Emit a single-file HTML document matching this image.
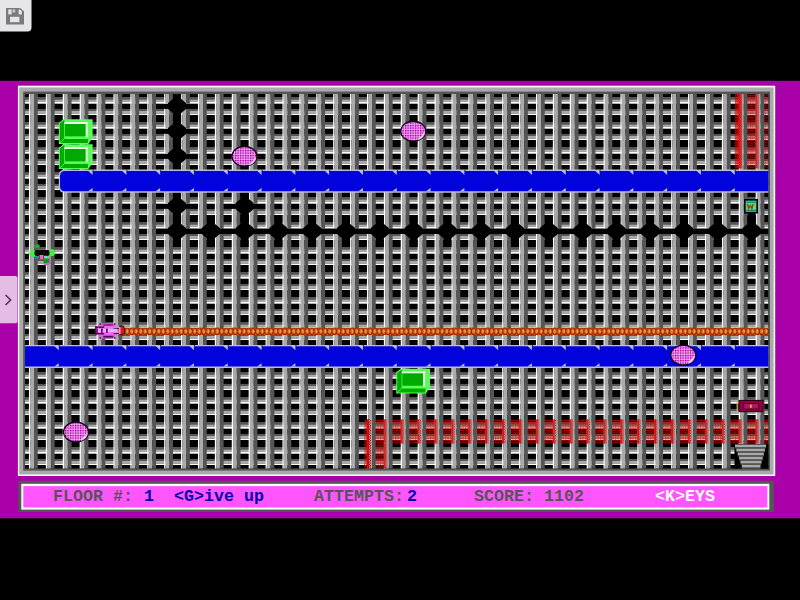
<!DOCTYPE html>
<html><head><meta charset="utf-8">
<style>
html,body{margin:0;padding:0;background:#000;width:800px;height:600px;overflow:hidden}
svg{position:absolute;left:0;top:0;filter:blur(0.2px)}
.ch{position:absolute;top:487px;width:11px;text-align:center;font-family:"Liberation Mono",monospace;font-weight:bold;font-size:16.6px;line-height:20px;white-space:pre}
</style></head><body>
<svg width="800" height="600" viewBox="0 0 800 600">
<defs>
<clipPath id="gclip"><rect x="25" y="93.9" width="743.3" height="374.7"/></clipPath>
<pattern id="dith" patternUnits="userSpaceOnUse" width="2.5" height="2.5">
<rect width="2.5" height="2.5" fill="#f070f0"/>
<rect x="0" y="0" width="1.25" height="1.25" fill="#900090"/>
<rect x="1.25" y="1.25" width="1.25" height="1.25" fill="#f4c0f4"/>
</pattern>
<pattern id="rweb" patternUnits="userSpaceOnUse" width="2.5" height="2.5">
<rect width="2.5" height="1.25" fill="#e00000"/>
<rect y="1.25" width="1.25" height="1.25" fill="#d00000"/>
</pattern>
<pattern id="rweb2" patternUnits="userSpaceOnUse" width="2.5" height="2.5">
<rect width="1.25" height="1.25" fill="#e00000"/>
<rect x="1.25" y="1.25" width="1.25" height="1.25" fill="#e00000"/>
</pattern>
<pattern id="rpink" patternUnits="userSpaceOnUse" width="2.5" height="5">
<rect width="1.25" height="1.25" fill="#c00000"/>
<rect x="1.25" y="2.5" width="1.25" height="1.25" fill="#ffb0b0"/>
</pattern>
<pattern id="rope" patternUnits="userSpaceOnUse" x="124.5" y="327.6" width="4.5" height="7.4">
<rect width="4.5" height="7.4" fill="#e07020"/>
<ellipse cx="2.6" cy="3.7" rx="2.3" ry="3.3" fill="none" stroke="#902000" stroke-width="1.1"/>
<rect x="2.4" y="2.5" width="1.3" height="2.4" fill="#ffb050"/>
</pattern>
</defs>
<rect x="0" y="80.8" width="800" height="437.5" fill="#aa00aa"/>
<rect x="17.9" y="85.7" width="757.3" height="390.3" fill="#fff"/>
<rect x="19.2" y="87.4" width="754.4" height="387.1" fill="#aaa"/>
<rect x="23.2" y="91.6" width="746.8" height="379" fill="#555"/>
<g clip-path="url(#gclip)">
<rect x="0" y="0" width="800" height="600" fill="#000"/>
<rect x="25.05" y="97" width="743.6" height="2.5" fill="#555"/>
<rect x="25.05" y="99.5" width="743.6" height="2.1" fill="#aaa"/>
<rect x="25.05" y="101.6" width="743.6" height="2.1" fill="#fff"/>
<rect x="25.05" y="108.9" width="743.6" height="1.9" fill="#555"/>
<rect x="25.05" y="110.8" width="743.6" height="2.95" fill="#aaa"/>
<rect x="25.05" y="113.75" width="743.6" height="1.25" fill="#fff"/>
<rect x="25.05" y="122" width="743.6" height="2.5" fill="#555"/>
<rect x="25.05" y="124.5" width="743.6" height="2.1" fill="#aaa"/>
<rect x="25.05" y="126.6" width="743.6" height="2.1" fill="#fff"/>
<rect x="25.05" y="133.9" width="743.6" height="1.9" fill="#555"/>
<rect x="25.05" y="135.8" width="743.6" height="2.95" fill="#aaa"/>
<rect x="25.05" y="138.75" width="743.6" height="1.25" fill="#fff"/>
<rect x="25.05" y="147" width="743.6" height="2.5" fill="#555"/>
<rect x="25.05" y="149.5" width="743.6" height="2.1" fill="#aaa"/>
<rect x="25.05" y="151.6" width="743.6" height="2.1" fill="#fff"/>
<rect x="25.05" y="158.9" width="743.6" height="1.9" fill="#555"/>
<rect x="25.05" y="160.8" width="743.6" height="2.95" fill="#aaa"/>
<rect x="25.05" y="163.75" width="743.6" height="1.25" fill="#fff"/>
<rect x="25.05" y="172" width="743.6" height="2.5" fill="#555"/>
<rect x="25.05" y="174.5" width="743.6" height="2.1" fill="#aaa"/>
<rect x="25.05" y="176.6" width="743.6" height="2.1" fill="#fff"/>
<rect x="25.05" y="183.9" width="743.6" height="1.9" fill="#555"/>
<rect x="25.05" y="185.8" width="743.6" height="2.95" fill="#aaa"/>
<rect x="25.05" y="188.75" width="743.6" height="1.25" fill="#fff"/>
<rect x="25.05" y="197" width="743.6" height="2.5" fill="#555"/>
<rect x="25.05" y="199.5" width="743.6" height="2.1" fill="#aaa"/>
<rect x="25.05" y="201.6" width="743.6" height="2.1" fill="#fff"/>
<rect x="25.05" y="208.9" width="743.6" height="1.9" fill="#555"/>
<rect x="25.05" y="210.8" width="743.6" height="2.95" fill="#aaa"/>
<rect x="25.05" y="213.75" width="743.6" height="1.25" fill="#fff"/>
<rect x="25.05" y="222" width="743.6" height="2.5" fill="#555"/>
<rect x="25.05" y="224.5" width="743.6" height="2.1" fill="#aaa"/>
<rect x="25.05" y="226.6" width="743.6" height="2.1" fill="#fff"/>
<rect x="25.05" y="233.9" width="743.6" height="1.9" fill="#555"/>
<rect x="25.05" y="235.8" width="743.6" height="2.95" fill="#aaa"/>
<rect x="25.05" y="238.75" width="743.6" height="1.25" fill="#fff"/>
<rect x="25.05" y="247" width="743.6" height="2.5" fill="#555"/>
<rect x="25.05" y="249.5" width="743.6" height="2.1" fill="#aaa"/>
<rect x="25.05" y="251.6" width="743.6" height="2.1" fill="#fff"/>
<rect x="25.05" y="258.9" width="743.6" height="1.9" fill="#555"/>
<rect x="25.05" y="260.8" width="743.6" height="2.95" fill="#aaa"/>
<rect x="25.05" y="263.75" width="743.6" height="1.25" fill="#fff"/>
<rect x="25.05" y="272" width="743.6" height="2.5" fill="#555"/>
<rect x="25.05" y="274.5" width="743.6" height="2.1" fill="#aaa"/>
<rect x="25.05" y="276.6" width="743.6" height="2.1" fill="#fff"/>
<rect x="25.05" y="283.9" width="743.6" height="1.9" fill="#555"/>
<rect x="25.05" y="285.8" width="743.6" height="2.95" fill="#aaa"/>
<rect x="25.05" y="288.75" width="743.6" height="1.25" fill="#fff"/>
<rect x="25.05" y="297" width="743.6" height="2.5" fill="#555"/>
<rect x="25.05" y="299.5" width="743.6" height="2.1" fill="#aaa"/>
<rect x="25.05" y="301.6" width="743.6" height="2.1" fill="#fff"/>
<rect x="25.05" y="308.9" width="743.6" height="1.9" fill="#555"/>
<rect x="25.05" y="310.8" width="743.6" height="2.95" fill="#aaa"/>
<rect x="25.05" y="313.75" width="743.6" height="1.25" fill="#fff"/>
<rect x="25.05" y="322" width="743.6" height="2.5" fill="#555"/>
<rect x="25.05" y="324.5" width="743.6" height="2.1" fill="#aaa"/>
<rect x="25.05" y="326.6" width="743.6" height="2.1" fill="#fff"/>
<rect x="25.05" y="333.9" width="743.6" height="1.9" fill="#555"/>
<rect x="25.05" y="335.8" width="743.6" height="2.95" fill="#aaa"/>
<rect x="25.05" y="338.75" width="743.6" height="1.25" fill="#fff"/>
<rect x="25.05" y="347" width="743.6" height="2.5" fill="#555"/>
<rect x="25.05" y="349.5" width="743.6" height="2.1" fill="#aaa"/>
<rect x="25.05" y="351.6" width="743.6" height="2.1" fill="#fff"/>
<rect x="25.05" y="358.9" width="743.6" height="1.9" fill="#555"/>
<rect x="25.05" y="360.8" width="743.6" height="2.95" fill="#aaa"/>
<rect x="25.05" y="363.75" width="743.6" height="1.25" fill="#fff"/>
<rect x="25.05" y="372" width="743.6" height="2.5" fill="#555"/>
<rect x="25.05" y="374.5" width="743.6" height="2.1" fill="#aaa"/>
<rect x="25.05" y="376.6" width="743.6" height="2.1" fill="#fff"/>
<rect x="25.05" y="383.9" width="743.6" height="1.9" fill="#555"/>
<rect x="25.05" y="385.8" width="743.6" height="2.95" fill="#aaa"/>
<rect x="25.05" y="388.75" width="743.6" height="1.25" fill="#fff"/>
<rect x="25.05" y="397" width="743.6" height="2.5" fill="#555"/>
<rect x="25.05" y="399.5" width="743.6" height="2.1" fill="#aaa"/>
<rect x="25.05" y="401.6" width="743.6" height="2.1" fill="#fff"/>
<rect x="25.05" y="408.9" width="743.6" height="1.9" fill="#555"/>
<rect x="25.05" y="410.8" width="743.6" height="2.95" fill="#aaa"/>
<rect x="25.05" y="413.75" width="743.6" height="1.25" fill="#fff"/>
<rect x="25.05" y="422" width="743.6" height="2.5" fill="#555"/>
<rect x="25.05" y="424.5" width="743.6" height="2.1" fill="#aaa"/>
<rect x="25.05" y="426.6" width="743.6" height="2.1" fill="#fff"/>
<rect x="25.05" y="433.9" width="743.6" height="1.9" fill="#555"/>
<rect x="25.05" y="435.8" width="743.6" height="2.95" fill="#aaa"/>
<rect x="25.05" y="438.75" width="743.6" height="1.25" fill="#fff"/>
<rect x="25.05" y="447" width="743.6" height="2.5" fill="#555"/>
<rect x="25.05" y="449.5" width="743.6" height="2.1" fill="#aaa"/>
<rect x="25.05" y="451.6" width="743.6" height="2.1" fill="#fff"/>
<rect x="25.05" y="458.9" width="743.6" height="1.9" fill="#555"/>
<rect x="25.05" y="460.8" width="743.6" height="2.95" fill="#aaa"/>
<rect x="25.05" y="463.75" width="743.6" height="1.25" fill="#fff"/>
<rect x="25.05" y="472" width="743.6" height="2.5" fill="#555"/>
<rect x="25.05" y="474.5" width="743.6" height="2.1" fill="#aaa"/>
<rect x="25.05" y="476.6" width="743.6" height="2.1" fill="#fff"/>
<rect x="25.05" y="483.9" width="743.6" height="1.9" fill="#555"/>
<rect x="25.05" y="485.8" width="743.6" height="2.95" fill="#aaa"/>
<rect x="25.05" y="488.75" width="743.6" height="1.25" fill="#fff"/>
<rect x="28.95" y="93.3" width="1.3" height="377" fill="#fff"/>
<rect x="30.25" y="93.3" width="3.75" height="377" fill="#aaa"/>
<rect x="34" y="93.3" width="3.75" height="377" fill="#555"/>
<rect x="45.85" y="93.3" width="1.3" height="377" fill="#fff"/>
<rect x="47.15" y="93.3" width="3.75" height="377" fill="#aaa"/>
<rect x="50.9" y="93.3" width="3.75" height="377" fill="#555"/>
<rect x="62.75" y="93.3" width="1.3" height="377" fill="#fff"/>
<rect x="64.05" y="93.3" width="3.75" height="377" fill="#aaa"/>
<rect x="67.8" y="93.3" width="3.75" height="377" fill="#555"/>
<rect x="79.65" y="93.3" width="1.3" height="377" fill="#fff"/>
<rect x="80.95" y="93.3" width="3.75" height="377" fill="#aaa"/>
<rect x="84.7" y="93.3" width="3.75" height="377" fill="#555"/>
<rect x="96.55" y="93.3" width="1.3" height="377" fill="#fff"/>
<rect x="97.85" y="93.3" width="3.75" height="377" fill="#aaa"/>
<rect x="101.6" y="93.3" width="3.75" height="377" fill="#555"/>
<rect x="113.45" y="93.3" width="1.3" height="377" fill="#fff"/>
<rect x="114.75" y="93.3" width="3.75" height="377" fill="#aaa"/>
<rect x="118.5" y="93.3" width="3.75" height="377" fill="#555"/>
<rect x="130.35" y="93.3" width="1.3" height="377" fill="#fff"/>
<rect x="131.65" y="93.3" width="3.75" height="377" fill="#aaa"/>
<rect x="135.4" y="93.3" width="3.75" height="377" fill="#555"/>
<rect x="147.25" y="93.3" width="1.3" height="377" fill="#fff"/>
<rect x="148.55" y="93.3" width="3.75" height="377" fill="#aaa"/>
<rect x="152.3" y="93.3" width="3.75" height="377" fill="#555"/>
<rect x="164.15" y="93.3" width="1.3" height="10.4" fill="#fff"/>
<rect x="165.45" y="93.3" width="3.75" height="10.4" fill="#aaa"/>
<rect x="169.2" y="93.3" width="3.75" height="10.4" fill="#555"/>
<rect x="164.15" y="108.9" width="1.3" height="19.8" fill="#fff"/>
<rect x="165.45" y="108.9" width="3.75" height="19.8" fill="#aaa"/>
<rect x="169.2" y="108.9" width="3.75" height="19.8" fill="#555"/>
<rect x="164.15" y="133.9" width="1.3" height="19.8" fill="#fff"/>
<rect x="165.45" y="133.9" width="3.75" height="19.8" fill="#aaa"/>
<rect x="169.2" y="133.9" width="3.75" height="19.8" fill="#555"/>
<rect x="164.15" y="158.9" width="1.3" height="19.8" fill="#fff"/>
<rect x="165.45" y="158.9" width="3.75" height="19.8" fill="#aaa"/>
<rect x="169.2" y="158.9" width="3.75" height="19.8" fill="#555"/>
<rect x="164.15" y="183.9" width="1.3" height="19.8" fill="#fff"/>
<rect x="165.45" y="183.9" width="3.75" height="19.8" fill="#aaa"/>
<rect x="169.2" y="183.9" width="3.75" height="19.8" fill="#555"/>
<rect x="164.15" y="208.9" width="1.3" height="19.8" fill="#fff"/>
<rect x="165.45" y="208.9" width="3.75" height="19.8" fill="#aaa"/>
<rect x="169.2" y="208.9" width="3.75" height="19.8" fill="#555"/>
<rect x="164.15" y="233.9" width="1.3" height="236.4" fill="#fff"/>
<rect x="165.45" y="233.9" width="3.75" height="236.4" fill="#aaa"/>
<rect x="169.2" y="233.9" width="3.75" height="236.4" fill="#555"/>
<rect x="181.05" y="93.3" width="1.3" height="10.4" fill="#fff"/>
<rect x="182.35" y="93.3" width="3.75" height="10.4" fill="#aaa"/>
<rect x="186.1" y="93.3" width="3.75" height="10.4" fill="#555"/>
<rect x="181.05" y="108.9" width="1.3" height="19.8" fill="#fff"/>
<rect x="182.35" y="108.9" width="3.75" height="19.8" fill="#aaa"/>
<rect x="186.1" y="108.9" width="3.75" height="19.8" fill="#555"/>
<rect x="181.05" y="133.9" width="1.3" height="19.8" fill="#fff"/>
<rect x="182.35" y="133.9" width="3.75" height="19.8" fill="#aaa"/>
<rect x="186.1" y="133.9" width="3.75" height="19.8" fill="#555"/>
<rect x="181.05" y="158.9" width="1.3" height="19.8" fill="#fff"/>
<rect x="182.35" y="158.9" width="3.75" height="19.8" fill="#aaa"/>
<rect x="186.1" y="158.9" width="3.75" height="19.8" fill="#555"/>
<rect x="181.05" y="183.9" width="1.3" height="19.8" fill="#fff"/>
<rect x="182.35" y="183.9" width="3.75" height="19.8" fill="#aaa"/>
<rect x="186.1" y="183.9" width="3.75" height="19.8" fill="#555"/>
<rect x="181.05" y="208.9" width="1.3" height="19.8" fill="#fff"/>
<rect x="182.35" y="208.9" width="3.75" height="19.8" fill="#aaa"/>
<rect x="186.1" y="208.9" width="3.75" height="19.8" fill="#555"/>
<rect x="181.05" y="233.9" width="1.3" height="236.4" fill="#fff"/>
<rect x="182.35" y="233.9" width="3.75" height="236.4" fill="#aaa"/>
<rect x="186.1" y="233.9" width="3.75" height="236.4" fill="#555"/>
<rect x="197.95" y="93.3" width="1.3" height="135.4" fill="#fff"/>
<rect x="199.25" y="93.3" width="3.75" height="135.4" fill="#aaa"/>
<rect x="203" y="93.3" width="3.75" height="135.4" fill="#555"/>
<rect x="197.95" y="233.9" width="1.3" height="236.4" fill="#fff"/>
<rect x="199.25" y="233.9" width="3.75" height="236.4" fill="#aaa"/>
<rect x="203" y="233.9" width="3.75" height="236.4" fill="#555"/>
<rect x="214.85" y="93.3" width="1.3" height="135.4" fill="#fff"/>
<rect x="216.15" y="93.3" width="3.75" height="135.4" fill="#aaa"/>
<rect x="219.9" y="93.3" width="3.75" height="135.4" fill="#555"/>
<rect x="214.85" y="233.9" width="1.3" height="236.4" fill="#fff"/>
<rect x="216.15" y="233.9" width="3.75" height="236.4" fill="#aaa"/>
<rect x="219.9" y="233.9" width="3.75" height="236.4" fill="#555"/>
<rect x="231.75" y="93.3" width="1.3" height="85.4" fill="#fff"/>
<rect x="233.05" y="93.3" width="3.75" height="85.4" fill="#aaa"/>
<rect x="236.8" y="93.3" width="3.75" height="85.4" fill="#555"/>
<rect x="231.75" y="183.9" width="1.3" height="19.8" fill="#fff"/>
<rect x="233.05" y="183.9" width="3.75" height="19.8" fill="#aaa"/>
<rect x="236.8" y="183.9" width="3.75" height="19.8" fill="#555"/>
<rect x="231.75" y="208.9" width="1.3" height="19.8" fill="#fff"/>
<rect x="233.05" y="208.9" width="3.75" height="19.8" fill="#aaa"/>
<rect x="236.8" y="208.9" width="3.75" height="19.8" fill="#555"/>
<rect x="231.75" y="233.9" width="1.3" height="236.4" fill="#fff"/>
<rect x="233.05" y="233.9" width="3.75" height="236.4" fill="#aaa"/>
<rect x="236.8" y="233.9" width="3.75" height="236.4" fill="#555"/>
<rect x="248.65" y="93.3" width="1.3" height="85.4" fill="#fff"/>
<rect x="249.95" y="93.3" width="3.75" height="85.4" fill="#aaa"/>
<rect x="253.7" y="93.3" width="3.75" height="85.4" fill="#555"/>
<rect x="248.65" y="183.9" width="1.3" height="19.8" fill="#fff"/>
<rect x="249.95" y="183.9" width="3.75" height="19.8" fill="#aaa"/>
<rect x="253.7" y="183.9" width="3.75" height="19.8" fill="#555"/>
<rect x="248.65" y="208.9" width="1.3" height="19.8" fill="#fff"/>
<rect x="249.95" y="208.9" width="3.75" height="19.8" fill="#aaa"/>
<rect x="253.7" y="208.9" width="3.75" height="19.8" fill="#555"/>
<rect x="248.65" y="233.9" width="1.3" height="236.4" fill="#fff"/>
<rect x="249.95" y="233.9" width="3.75" height="236.4" fill="#aaa"/>
<rect x="253.7" y="233.9" width="3.75" height="236.4" fill="#555"/>
<rect x="265.55" y="93.3" width="1.3" height="135.4" fill="#fff"/>
<rect x="266.85" y="93.3" width="3.75" height="135.4" fill="#aaa"/>
<rect x="270.6" y="93.3" width="3.75" height="135.4" fill="#555"/>
<rect x="265.55" y="233.9" width="1.3" height="236.4" fill="#fff"/>
<rect x="266.85" y="233.9" width="3.75" height="236.4" fill="#aaa"/>
<rect x="270.6" y="233.9" width="3.75" height="236.4" fill="#555"/>
<rect x="282.45" y="93.3" width="1.3" height="135.4" fill="#fff"/>
<rect x="283.75" y="93.3" width="3.75" height="135.4" fill="#aaa"/>
<rect x="287.5" y="93.3" width="3.75" height="135.4" fill="#555"/>
<rect x="282.45" y="233.9" width="1.3" height="236.4" fill="#fff"/>
<rect x="283.75" y="233.9" width="3.75" height="236.4" fill="#aaa"/>
<rect x="287.5" y="233.9" width="3.75" height="236.4" fill="#555"/>
<rect x="299.35" y="93.3" width="1.3" height="135.4" fill="#fff"/>
<rect x="300.65" y="93.3" width="3.75" height="135.4" fill="#aaa"/>
<rect x="304.4" y="93.3" width="3.75" height="135.4" fill="#555"/>
<rect x="299.35" y="233.9" width="1.3" height="236.4" fill="#fff"/>
<rect x="300.65" y="233.9" width="3.75" height="236.4" fill="#aaa"/>
<rect x="304.4" y="233.9" width="3.75" height="236.4" fill="#555"/>
<rect x="316.25" y="93.3" width="1.3" height="135.4" fill="#fff"/>
<rect x="317.55" y="93.3" width="3.75" height="135.4" fill="#aaa"/>
<rect x="321.3" y="93.3" width="3.75" height="135.4" fill="#555"/>
<rect x="316.25" y="233.9" width="1.3" height="236.4" fill="#fff"/>
<rect x="317.55" y="233.9" width="3.75" height="236.4" fill="#aaa"/>
<rect x="321.3" y="233.9" width="3.75" height="236.4" fill="#555"/>
<rect x="333.15" y="93.3" width="1.3" height="135.4" fill="#fff"/>
<rect x="334.45" y="93.3" width="3.75" height="135.4" fill="#aaa"/>
<rect x="338.2" y="93.3" width="3.75" height="135.4" fill="#555"/>
<rect x="333.15" y="233.9" width="1.3" height="236.4" fill="#fff"/>
<rect x="334.45" y="233.9" width="3.75" height="236.4" fill="#aaa"/>
<rect x="338.2" y="233.9" width="3.75" height="236.4" fill="#555"/>
<rect x="350.05" y="93.3" width="1.3" height="135.4" fill="#fff"/>
<rect x="351.35" y="93.3" width="3.75" height="135.4" fill="#aaa"/>
<rect x="355.1" y="93.3" width="3.75" height="135.4" fill="#555"/>
<rect x="350.05" y="233.9" width="1.3" height="236.4" fill="#fff"/>
<rect x="351.35" y="233.9" width="3.75" height="236.4" fill="#aaa"/>
<rect x="355.1" y="233.9" width="3.75" height="236.4" fill="#555"/>
<rect x="366.95" y="93.3" width="1.3" height="135.4" fill="#fff"/>
<rect x="368.25" y="93.3" width="3.75" height="135.4" fill="#aaa"/>
<rect x="372" y="93.3" width="3.75" height="135.4" fill="#555"/>
<rect x="366.95" y="233.9" width="1.3" height="236.4" fill="#fff"/>
<rect x="368.25" y="233.9" width="3.75" height="236.4" fill="#aaa"/>
<rect x="372" y="233.9" width="3.75" height="236.4" fill="#555"/>
<rect x="383.85" y="93.3" width="1.3" height="135.4" fill="#fff"/>
<rect x="385.15" y="93.3" width="3.75" height="135.4" fill="#aaa"/>
<rect x="388.9" y="93.3" width="3.75" height="135.4" fill="#555"/>
<rect x="383.85" y="233.9" width="1.3" height="236.4" fill="#fff"/>
<rect x="385.15" y="233.9" width="3.75" height="236.4" fill="#aaa"/>
<rect x="388.9" y="233.9" width="3.75" height="236.4" fill="#555"/>
<rect x="400.75" y="93.3" width="1.3" height="135.4" fill="#fff"/>
<rect x="402.05" y="93.3" width="3.75" height="135.4" fill="#aaa"/>
<rect x="405.8" y="93.3" width="3.75" height="135.4" fill="#555"/>
<rect x="400.75" y="233.9" width="1.3" height="236.4" fill="#fff"/>
<rect x="402.05" y="233.9" width="3.75" height="236.4" fill="#aaa"/>
<rect x="405.8" y="233.9" width="3.75" height="236.4" fill="#555"/>
<rect x="417.65" y="93.3" width="1.3" height="135.4" fill="#fff"/>
<rect x="418.95" y="93.3" width="3.75" height="135.4" fill="#aaa"/>
<rect x="422.7" y="93.3" width="3.75" height="135.4" fill="#555"/>
<rect x="417.65" y="233.9" width="1.3" height="236.4" fill="#fff"/>
<rect x="418.95" y="233.9" width="3.75" height="236.4" fill="#aaa"/>
<rect x="422.7" y="233.9" width="3.75" height="236.4" fill="#555"/>
<rect x="434.55" y="93.3" width="1.3" height="135.4" fill="#fff"/>
<rect x="435.85" y="93.3" width="3.75" height="135.4" fill="#aaa"/>
<rect x="439.6" y="93.3" width="3.75" height="135.4" fill="#555"/>
<rect x="434.55" y="233.9" width="1.3" height="236.4" fill="#fff"/>
<rect x="435.85" y="233.9" width="3.75" height="236.4" fill="#aaa"/>
<rect x="439.6" y="233.9" width="3.75" height="236.4" fill="#555"/>
<rect x="451.45" y="93.3" width="1.3" height="135.4" fill="#fff"/>
<rect x="452.75" y="93.3" width="3.75" height="135.4" fill="#aaa"/>
<rect x="456.5" y="93.3" width="3.75" height="135.4" fill="#555"/>
<rect x="451.45" y="233.9" width="1.3" height="236.4" fill="#fff"/>
<rect x="452.75" y="233.9" width="3.75" height="236.4" fill="#aaa"/>
<rect x="456.5" y="233.9" width="3.75" height="236.4" fill="#555"/>
<rect x="468.35" y="93.3" width="1.3" height="135.4" fill="#fff"/>
<rect x="469.65" y="93.3" width="3.75" height="135.4" fill="#aaa"/>
<rect x="473.4" y="93.3" width="3.75" height="135.4" fill="#555"/>
<rect x="468.35" y="233.9" width="1.3" height="236.4" fill="#fff"/>
<rect x="469.65" y="233.9" width="3.75" height="236.4" fill="#aaa"/>
<rect x="473.4" y="233.9" width="3.75" height="236.4" fill="#555"/>
<rect x="485.25" y="93.3" width="1.3" height="135.4" fill="#fff"/>
<rect x="486.55" y="93.3" width="3.75" height="135.4" fill="#aaa"/>
<rect x="490.3" y="93.3" width="3.75" height="135.4" fill="#555"/>
<rect x="485.25" y="233.9" width="1.3" height="236.4" fill="#fff"/>
<rect x="486.55" y="233.9" width="3.75" height="236.4" fill="#aaa"/>
<rect x="490.3" y="233.9" width="3.75" height="236.4" fill="#555"/>
<rect x="502.15" y="93.3" width="1.3" height="135.4" fill="#fff"/>
<rect x="503.45" y="93.3" width="3.75" height="135.4" fill="#aaa"/>
<rect x="507.2" y="93.3" width="3.75" height="135.4" fill="#555"/>
<rect x="502.15" y="233.9" width="1.3" height="236.4" fill="#fff"/>
<rect x="503.45" y="233.9" width="3.75" height="236.4" fill="#aaa"/>
<rect x="507.2" y="233.9" width="3.75" height="236.4" fill="#555"/>
<rect x="519.05" y="93.3" width="1.3" height="135.4" fill="#fff"/>
<rect x="520.35" y="93.3" width="3.75" height="135.4" fill="#aaa"/>
<rect x="524.1" y="93.3" width="3.75" height="135.4" fill="#555"/>
<rect x="519.05" y="233.9" width="1.3" height="236.4" fill="#fff"/>
<rect x="520.35" y="233.9" width="3.75" height="236.4" fill="#aaa"/>
<rect x="524.1" y="233.9" width="3.75" height="236.4" fill="#555"/>
<rect x="535.95" y="93.3" width="1.3" height="135.4" fill="#fff"/>
<rect x="537.25" y="93.3" width="3.75" height="135.4" fill="#aaa"/>
<rect x="541" y="93.3" width="3.75" height="135.4" fill="#555"/>
<rect x="535.95" y="233.9" width="1.3" height="236.4" fill="#fff"/>
<rect x="537.25" y="233.9" width="3.75" height="236.4" fill="#aaa"/>
<rect x="541" y="233.9" width="3.75" height="236.4" fill="#555"/>
<rect x="552.85" y="93.3" width="1.3" height="135.4" fill="#fff"/>
<rect x="554.15" y="93.3" width="3.75" height="135.4" fill="#aaa"/>
<rect x="557.9" y="93.3" width="3.75" height="135.4" fill="#555"/>
<rect x="552.85" y="233.9" width="1.3" height="236.4" fill="#fff"/>
<rect x="554.15" y="233.9" width="3.75" height="236.4" fill="#aaa"/>
<rect x="557.9" y="233.9" width="3.75" height="236.4" fill="#555"/>
<rect x="569.75" y="93.3" width="1.3" height="135.4" fill="#fff"/>
<rect x="571.05" y="93.3" width="3.75" height="135.4" fill="#aaa"/>
<rect x="574.8" y="93.3" width="3.75" height="135.4" fill="#555"/>
<rect x="569.75" y="233.9" width="1.3" height="236.4" fill="#fff"/>
<rect x="571.05" y="233.9" width="3.75" height="236.4" fill="#aaa"/>
<rect x="574.8" y="233.9" width="3.75" height="236.4" fill="#555"/>
<rect x="586.65" y="93.3" width="1.3" height="135.4" fill="#fff"/>
<rect x="587.95" y="93.3" width="3.75" height="135.4" fill="#aaa"/>
<rect x="591.7" y="93.3" width="3.75" height="135.4" fill="#555"/>
<rect x="586.65" y="233.9" width="1.3" height="236.4" fill="#fff"/>
<rect x="587.95" y="233.9" width="3.75" height="236.4" fill="#aaa"/>
<rect x="591.7" y="233.9" width="3.75" height="236.4" fill="#555"/>
<rect x="603.55" y="93.3" width="1.3" height="135.4" fill="#fff"/>
<rect x="604.85" y="93.3" width="3.75" height="135.4" fill="#aaa"/>
<rect x="608.6" y="93.3" width="3.75" height="135.4" fill="#555"/>
<rect x="603.55" y="233.9" width="1.3" height="236.4" fill="#fff"/>
<rect x="604.85" y="233.9" width="3.75" height="236.4" fill="#aaa"/>
<rect x="608.6" y="233.9" width="3.75" height="236.4" fill="#555"/>
<rect x="620.45" y="93.3" width="1.3" height="135.4" fill="#fff"/>
<rect x="621.75" y="93.3" width="3.75" height="135.4" fill="#aaa"/>
<rect x="625.5" y="93.3" width="3.75" height="135.4" fill="#555"/>
<rect x="620.45" y="233.9" width="1.3" height="236.4" fill="#fff"/>
<rect x="621.75" y="233.9" width="3.75" height="236.4" fill="#aaa"/>
<rect x="625.5" y="233.9" width="3.75" height="236.4" fill="#555"/>
<rect x="637.35" y="93.3" width="1.3" height="135.4" fill="#fff"/>
<rect x="638.65" y="93.3" width="3.75" height="135.4" fill="#aaa"/>
<rect x="642.4" y="93.3" width="3.75" height="135.4" fill="#555"/>
<rect x="637.35" y="233.9" width="1.3" height="236.4" fill="#fff"/>
<rect x="638.65" y="233.9" width="3.75" height="236.4" fill="#aaa"/>
<rect x="642.4" y="233.9" width="3.75" height="236.4" fill="#555"/>
<rect x="654.25" y="93.3" width="1.3" height="135.4" fill="#fff"/>
<rect x="655.55" y="93.3" width="3.75" height="135.4" fill="#aaa"/>
<rect x="659.3" y="93.3" width="3.75" height="135.4" fill="#555"/>
<rect x="654.25" y="233.9" width="1.3" height="236.4" fill="#fff"/>
<rect x="655.55" y="233.9" width="3.75" height="236.4" fill="#aaa"/>
<rect x="659.3" y="233.9" width="3.75" height="236.4" fill="#555"/>
<rect x="671.15" y="93.3" width="1.3" height="135.4" fill="#fff"/>
<rect x="672.45" y="93.3" width="3.75" height="135.4" fill="#aaa"/>
<rect x="676.2" y="93.3" width="3.75" height="135.4" fill="#555"/>
<rect x="671.15" y="233.9" width="1.3" height="236.4" fill="#fff"/>
<rect x="672.45" y="233.9" width="3.75" height="236.4" fill="#aaa"/>
<rect x="676.2" y="233.9" width="3.75" height="236.4" fill="#555"/>
<rect x="688.05" y="93.3" width="1.3" height="135.4" fill="#fff"/>
<rect x="689.35" y="93.3" width="3.75" height="135.4" fill="#aaa"/>
<rect x="693.1" y="93.3" width="3.75" height="135.4" fill="#555"/>
<rect x="688.05" y="233.9" width="1.3" height="236.4" fill="#fff"/>
<rect x="689.35" y="233.9" width="3.75" height="236.4" fill="#aaa"/>
<rect x="693.1" y="233.9" width="3.75" height="236.4" fill="#555"/>
<rect x="704.95" y="93.3" width="1.3" height="135.4" fill="#fff"/>
<rect x="706.25" y="93.3" width="3.75" height="135.4" fill="#aaa"/>
<rect x="710" y="93.3" width="3.75" height="135.4" fill="#555"/>
<rect x="704.95" y="233.9" width="1.3" height="236.4" fill="#fff"/>
<rect x="706.25" y="233.9" width="3.75" height="236.4" fill="#aaa"/>
<rect x="710" y="233.9" width="3.75" height="236.4" fill="#555"/>
<rect x="721.85" y="93.3" width="1.3" height="135.4" fill="#fff"/>
<rect x="723.15" y="93.3" width="3.75" height="135.4" fill="#aaa"/>
<rect x="726.9" y="93.3" width="3.75" height="135.4" fill="#555"/>
<rect x="721.85" y="233.9" width="1.3" height="236.4" fill="#fff"/>
<rect x="723.15" y="233.9" width="3.75" height="236.4" fill="#aaa"/>
<rect x="726.9" y="233.9" width="3.75" height="236.4" fill="#555"/>
<rect x="738.75" y="93.3" width="1.3" height="135.4" fill="#fff"/>
<rect x="740.05" y="93.3" width="3.75" height="135.4" fill="#aaa"/>
<rect x="743.8" y="93.3" width="3.75" height="135.4" fill="#555"/>
<rect x="738.75" y="233.9" width="1.3" height="236.4" fill="#fff"/>
<rect x="740.05" y="233.9" width="3.75" height="236.4" fill="#aaa"/>
<rect x="743.8" y="233.9" width="3.75" height="236.4" fill="#555"/>
<rect x="755.65" y="93.3" width="1.3" height="135.4" fill="#fff"/>
<rect x="756.95" y="93.3" width="3.75" height="135.4" fill="#aaa"/>
<rect x="760.7" y="93.3" width="3.75" height="135.4" fill="#555"/>
<rect x="755.65" y="233.9" width="1.3" height="236.4" fill="#fff"/>
<rect x="756.95" y="233.9" width="3.75" height="236.4" fill="#aaa"/>
<rect x="760.7" y="233.9" width="3.75" height="236.4" fill="#555"/>
<rect x="172.96" y="90" width="8.09" height="32" fill="#000"/>
<rect x="172.96" y="115" width="8.09" height="32" fill="#000"/>
<rect x="172.96" y="140" width="8.09" height="32" fill="#000"/>
<rect x="172.96" y="165" width="8.09" height="32" fill="#000"/>
<rect x="172.96" y="190" width="8.09" height="32" fill="#000"/>
<rect x="172.96" y="215" width="8.09" height="32" fill="#000"/>
<rect x="206.76" y="215" width="8.09" height="32" fill="#000"/>
<rect x="240.56" y="165" width="8.09" height="32" fill="#000"/>
<rect x="240.56" y="190" width="8.09" height="32" fill="#000"/>
<rect x="240.56" y="215" width="8.09" height="32" fill="#000"/>
<rect x="274.36" y="215" width="8.09" height="32" fill="#000"/>
<rect x="308.16" y="215" width="8.09" height="32" fill="#000"/>
<rect x="341.96" y="215" width="8.09" height="32" fill="#000"/>
<rect x="375.76" y="215" width="8.09" height="32" fill="#000"/>
<rect x="409.56" y="215" width="8.09" height="32" fill="#000"/>
<rect x="443.36" y="215" width="8.09" height="32" fill="#000"/>
<rect x="477.16" y="215" width="8.09" height="32" fill="#000"/>
<rect x="510.96" y="215" width="8.09" height="32" fill="#000"/>
<rect x="544.76" y="215" width="8.09" height="32" fill="#000"/>
<rect x="578.56" y="215" width="8.09" height="32" fill="#000"/>
<rect x="612.36" y="215" width="8.09" height="32" fill="#000"/>
<rect x="646.16" y="215" width="8.09" height="32" fill="#000"/>
<rect x="679.96" y="215" width="8.09" height="32" fill="#000"/>
<rect x="713.76" y="215" width="8.09" height="32" fill="#000"/>
<rect x="747.56" y="215" width="8.09" height="32" fill="#000"/>
<rect x="172.96" y="93.3" width="8.09" height="10.4" fill="#000"/>
<rect x="172.96" y="103.7" width="8.09" height="130.2" fill="#000"/>
<rect x="240.56" y="178.7" width="8.09" height="55.2" fill="#000"/>
<rect x="747.56" y="210" width="8.09" height="23.9" fill="#000"/>
<rect x="156.06" y="228.7" width="612.59" height="5.2" fill="#000"/>
<polygon points="172.8,98.9 181.2,98.9 186,102.9 186,108.9 181.2,112.9 172.8,112.9 168,108.9 168,102.9" fill="#000"/>
<polygon points="172.8,123.9 181.2,123.9 186,127.9 186,133.9 181.2,137.9 172.8,137.9 168,133.9 168,127.9" fill="#000"/>
<polygon points="172.8,148.9 181.2,148.9 186,152.9 186,158.9 181.2,162.9 172.8,162.9 168,158.9 168,152.9" fill="#000"/>
<polygon points="172.8,173.9 181.2,173.9 186,177.9 186,183.9 181.2,187.9 172.8,187.9 168,183.9 168,177.9" fill="#000"/>
<polygon points="172.8,198.9 181.2,198.9 186,202.9 186,208.9 181.2,212.9 172.8,212.9 168,208.9 168,202.9" fill="#000"/>
<polygon points="172.8,223.9 181.2,223.9 186,227.9 186,233.9 181.2,237.9 172.8,237.9 168,233.9 168,227.9" fill="#000"/>
<polygon points="206.6,223.9 215,223.9 219.8,227.9 219.8,233.9 215,237.9 206.6,237.9 201.8,233.9 201.8,227.9" fill="#000"/>
<polygon points="240.4,173.9 248.8,173.9 253.6,177.9 253.6,183.9 248.8,187.9 240.4,187.9 235.6,183.9 235.6,177.9" fill="#000"/>
<polygon points="240.4,198.9 248.8,198.9 253.6,202.9 253.6,208.9 248.8,212.9 240.4,212.9 235.6,208.9 235.6,202.9" fill="#000"/>
<polygon points="240.4,223.9 248.8,223.9 253.6,227.9 253.6,233.9 248.8,237.9 240.4,237.9 235.6,233.9 235.6,227.9" fill="#000"/>
<polygon points="274.2,223.9 282.6,223.9 287.4,227.9 287.4,233.9 282.6,237.9 274.2,237.9 269.4,233.9 269.4,227.9" fill="#000"/>
<polygon points="308,223.9 316.4,223.9 321.2,227.9 321.2,233.9 316.4,237.9 308,237.9 303.2,233.9 303.2,227.9" fill="#000"/>
<polygon points="341.8,223.9 350.2,223.9 355,227.9 355,233.9 350.2,237.9 341.8,237.9 337,233.9 337,227.9" fill="#000"/>
<polygon points="375.6,223.9 384,223.9 388.8,227.9 388.8,233.9 384,237.9 375.6,237.9 370.8,233.9 370.8,227.9" fill="#000"/>
<polygon points="409.4,223.9 417.8,223.9 422.6,227.9 422.6,233.9 417.8,237.9 409.4,237.9 404.6,233.9 404.6,227.9" fill="#000"/>
<polygon points="443.2,223.9 451.6,223.9 456.4,227.9 456.4,233.9 451.6,237.9 443.2,237.9 438.4,233.9 438.4,227.9" fill="#000"/>
<polygon points="477,223.9 485.4,223.9 490.2,227.9 490.2,233.9 485.4,237.9 477,237.9 472.2,233.9 472.2,227.9" fill="#000"/>
<polygon points="510.8,223.9 519.2,223.9 524,227.9 524,233.9 519.2,237.9 510.8,237.9 506,233.9 506,227.9" fill="#000"/>
<polygon points="544.6,223.9 553,223.9 557.8,227.9 557.8,233.9 553,237.9 544.6,237.9 539.8,233.9 539.8,227.9" fill="#000"/>
<polygon points="578.4,223.9 586.8,223.9 591.6,227.9 591.6,233.9 586.8,237.9 578.4,237.9 573.6,233.9 573.6,227.9" fill="#000"/>
<polygon points="612.2,223.9 620.6,223.9 625.4,227.9 625.4,233.9 620.6,237.9 612.2,237.9 607.4,233.9 607.4,227.9" fill="#000"/>
<polygon points="646,223.9 654.4,223.9 659.2,227.9 659.2,233.9 654.4,237.9 646,237.9 641.2,233.9 641.2,227.9" fill="#000"/>
<polygon points="679.8,223.9 688.2,223.9 693,227.9 693,233.9 688.2,237.9 679.8,237.9 675,233.9 675,227.9" fill="#000"/>
<polygon points="713.6,223.9 722,223.9 726.8,227.9 726.8,233.9 722,237.9 713.6,237.9 708.8,233.9 708.8,227.9" fill="#000"/>
<polygon points="747.4,223.9 755.8,223.9 760.6,227.9 760.6,233.9 755.8,237.9 747.4,237.9 742.6,233.9 742.6,227.9" fill="#000"/>
<rect x="375.75" y="419.3" width="8.1" height="24.3" fill="url(#rweb)" opacity="0.68"/>
<rect x="383.65" y="419.3" width="2" height="24.3" fill="#d00000" opacity="0.85"/>
<rect x="385.65" y="419.3" width="1.6" height="24.3" fill="url(#rweb2)" opacity="0.9"/>
<rect x="392.65" y="419.3" width="8.1" height="24.3" fill="url(#rweb)" opacity="0.68"/>
<rect x="400.55" y="419.3" width="2" height="24.3" fill="#d00000" opacity="0.85"/>
<rect x="402.55" y="419.3" width="1.6" height="24.3" fill="url(#rweb2)" opacity="0.9"/>
<rect x="409.55" y="419.3" width="8.1" height="24.3" fill="url(#rweb)" opacity="0.68"/>
<rect x="417.45" y="419.3" width="2" height="24.3" fill="#d00000" opacity="0.85"/>
<rect x="419.45" y="419.3" width="1.6" height="24.3" fill="url(#rweb2)" opacity="0.9"/>
<rect x="426.45" y="419.3" width="8.1" height="24.3" fill="url(#rweb)" opacity="0.68"/>
<rect x="434.35" y="419.3" width="2" height="24.3" fill="#d00000" opacity="0.85"/>
<rect x="436.35" y="419.3" width="1.6" height="24.3" fill="url(#rweb2)" opacity="0.9"/>
<rect x="443.35" y="419.3" width="8.1" height="24.3" fill="url(#rweb)" opacity="0.68"/>
<rect x="451.25" y="419.3" width="2" height="24.3" fill="#d00000" opacity="0.85"/>
<rect x="453.25" y="419.3" width="1.6" height="24.3" fill="url(#rweb2)" opacity="0.9"/>
<rect x="460.25" y="419.3" width="8.1" height="24.3" fill="url(#rweb)" opacity="0.68"/>
<rect x="468.15" y="419.3" width="2" height="24.3" fill="#d00000" opacity="0.85"/>
<rect x="470.15" y="419.3" width="1.6" height="24.3" fill="url(#rweb2)" opacity="0.9"/>
<rect x="477.15" y="419.3" width="8.1" height="24.3" fill="url(#rweb)" opacity="0.68"/>
<rect x="485.05" y="419.3" width="2" height="24.3" fill="#d00000" opacity="0.85"/>
<rect x="487.05" y="419.3" width="1.6" height="24.3" fill="url(#rweb2)" opacity="0.9"/>
<rect x="494.05" y="419.3" width="8.1" height="24.3" fill="url(#rweb)" opacity="0.68"/>
<rect x="501.95" y="419.3" width="2" height="24.3" fill="#d00000" opacity="0.85"/>
<rect x="503.95" y="419.3" width="1.6" height="24.3" fill="url(#rweb2)" opacity="0.9"/>
<rect x="510.95" y="419.3" width="8.1" height="24.3" fill="url(#rweb)" opacity="0.68"/>
<rect x="518.85" y="419.3" width="2" height="24.3" fill="#d00000" opacity="0.85"/>
<rect x="520.85" y="419.3" width="1.6" height="24.3" fill="url(#rweb2)" opacity="0.9"/>
<rect x="527.85" y="419.3" width="8.1" height="24.3" fill="url(#rweb)" opacity="0.68"/>
<rect x="535.75" y="419.3" width="2" height="24.3" fill="#d00000" opacity="0.85"/>
<rect x="537.75" y="419.3" width="1.6" height="24.3" fill="url(#rweb2)" opacity="0.9"/>
<rect x="544.75" y="419.3" width="8.1" height="24.3" fill="url(#rweb)" opacity="0.68"/>
<rect x="552.65" y="419.3" width="2" height="24.3" fill="#d00000" opacity="0.85"/>
<rect x="554.65" y="419.3" width="1.6" height="24.3" fill="url(#rweb2)" opacity="0.9"/>
<rect x="561.65" y="419.3" width="8.1" height="24.3" fill="url(#rweb)" opacity="0.68"/>
<rect x="569.55" y="419.3" width="2" height="24.3" fill="#d00000" opacity="0.85"/>
<rect x="571.55" y="419.3" width="1.6" height="24.3" fill="url(#rweb2)" opacity="0.9"/>
<rect x="578.55" y="419.3" width="8.1" height="24.3" fill="url(#rweb)" opacity="0.68"/>
<rect x="586.45" y="419.3" width="2" height="24.3" fill="#d00000" opacity="0.85"/>
<rect x="588.45" y="419.3" width="1.6" height="24.3" fill="url(#rweb2)" opacity="0.9"/>
<rect x="595.45" y="419.3" width="8.1" height="24.3" fill="url(#rweb)" opacity="0.68"/>
<rect x="603.35" y="419.3" width="2" height="24.3" fill="#d00000" opacity="0.85"/>
<rect x="605.35" y="419.3" width="1.6" height="24.3" fill="url(#rweb2)" opacity="0.9"/>
<rect x="612.35" y="419.3" width="8.1" height="24.3" fill="url(#rweb)" opacity="0.68"/>
<rect x="620.25" y="419.3" width="2" height="24.3" fill="#d00000" opacity="0.85"/>
<rect x="622.25" y="419.3" width="1.6" height="24.3" fill="url(#rweb2)" opacity="0.9"/>
<rect x="629.25" y="419.3" width="8.1" height="24.3" fill="url(#rweb)" opacity="0.68"/>
<rect x="637.15" y="419.3" width="2" height="24.3" fill="#d00000" opacity="0.85"/>
<rect x="639.15" y="419.3" width="1.6" height="24.3" fill="url(#rweb2)" opacity="0.9"/>
<rect x="646.15" y="419.3" width="8.1" height="24.3" fill="url(#rweb)" opacity="0.68"/>
<rect x="654.05" y="419.3" width="2" height="24.3" fill="#d00000" opacity="0.85"/>
<rect x="656.05" y="419.3" width="1.6" height="24.3" fill="url(#rweb2)" opacity="0.9"/>
<rect x="663.05" y="419.3" width="8.1" height="24.3" fill="url(#rweb)" opacity="0.68"/>
<rect x="670.95" y="419.3" width="2" height="24.3" fill="#d00000" opacity="0.85"/>
<rect x="672.95" y="419.3" width="1.6" height="24.3" fill="url(#rweb2)" opacity="0.9"/>
<rect x="679.95" y="419.3" width="8.1" height="24.3" fill="url(#rweb)" opacity="0.68"/>
<rect x="687.85" y="419.3" width="2" height="24.3" fill="#d00000" opacity="0.85"/>
<rect x="689.85" y="419.3" width="1.6" height="24.3" fill="url(#rweb2)" opacity="0.9"/>
<rect x="696.85" y="419.3" width="8.1" height="24.3" fill="url(#rweb)" opacity="0.68"/>
<rect x="704.75" y="419.3" width="2" height="24.3" fill="#d00000" opacity="0.85"/>
<rect x="706.75" y="419.3" width="1.6" height="24.3" fill="url(#rweb2)" opacity="0.9"/>
<rect x="713.75" y="419.3" width="8.1" height="24.3" fill="url(#rweb)" opacity="0.68"/>
<rect x="721.65" y="419.3" width="2" height="24.3" fill="#d00000" opacity="0.85"/>
<rect x="723.65" y="419.3" width="1.6" height="24.3" fill="url(#rweb2)" opacity="0.9"/>
<rect x="730.65" y="419.3" width="8.1" height="24.3" fill="url(#rweb)" opacity="0.68"/>
<rect x="738.55" y="419.3" width="2" height="24.3" fill="#d00000" opacity="0.85"/>
<rect x="740.55" y="419.3" width="1.6" height="24.3" fill="url(#rweb2)" opacity="0.9"/>
<rect x="747.55" y="419.3" width="8.1" height="24.3" fill="url(#rweb)" opacity="0.68"/>
<rect x="755.45" y="419.3" width="2" height="24.3" fill="#d00000" opacity="0.85"/>
<rect x="757.45" y="419.3" width="1.6" height="24.3" fill="url(#rweb2)" opacity="0.9"/>
<rect x="764.45" y="419.3" width="4.2" height="24.3" fill="url(#rweb)" opacity="0.68"/>
<rect x="375.75" y="443.6" width="8.1" height="25.7" fill="url(#rweb)" opacity="0.68"/>
<rect x="383.65" y="443.6" width="2" height="25.7" fill="#d00000" opacity="0.85"/>
<rect x="385.65" y="443.6" width="1.6" height="25.7" fill="url(#rweb2)" opacity="0.9"/>
<rect x="364.25" y="419.3" width="6.8" height="50" fill="url(#rweb2)" opacity="1"/>
<rect x="366.75" y="419.3" width="2.2" height="50" fill="#d00000" opacity="0.9"/>
<rect x="734.7" y="93.3" width="4.05" height="75.2" fill="url(#rweb)" opacity="0.68"/>
<rect x="738.55" y="93.3" width="2" height="75.2" fill="#d00000" opacity="0.85"/>
<rect x="740.55" y="93.3" width="1.6" height="75.2" fill="url(#rweb2)" opacity="0.9"/>
<rect x="735.65" y="93.3" width="6.5" height="75.2" fill="url(#rweb2)" opacity="0.8"/>
<rect x="747.55" y="93.3" width="8.1" height="75.2" fill="url(#rweb)" opacity="0.68"/>
<rect x="755.45" y="93.3" width="2" height="75.2" fill="#d00000" opacity="0.85"/>
<rect x="757.45" y="93.3" width="1.6" height="75.2" fill="url(#rweb2)" opacity="0.9"/>
<rect x="764.45" y="93.3" width="4.2" height="75.2" fill="url(#rweb)" opacity="0.50"/>
</g>
<path d="M64.35 169.6 H768.4 V192.8 H64.35 A5.5 5.5 0 0 1 58.85 187.3 V175.1 A5.5 5.5 0 0 1 64.35 169.6 Z" fill="#bcbcdc"/>
<path d="M64.55 170.9 H768.4 V191.2 H64.55 A4.5 4.5 0 0 1 60.05 186.7 V175.4 A4.5 4.5 0 0 1 64.55 170.9 Z" fill="#0202dc"/>
<polygon points="88.05,170.8 92.55,170.8 92.55,175" fill="#bcbcdc"/>
<polygon points="88.05,191.3 92.55,191.3 92.55,188" fill="#bcbcdc"/>
<rect x="92.55" y="169.6" width="1.1" height="1.3" fill="#303048"/>
<polygon points="121.85,170.8 126.35,170.8 126.35,175" fill="#bcbcdc"/>
<polygon points="121.85,191.3 126.35,191.3 126.35,188" fill="#bcbcdc"/>
<rect x="126.35" y="169.6" width="1.1" height="1.3" fill="#303048"/>
<polygon points="155.65,170.8 160.15,170.8 160.15,175" fill="#bcbcdc"/>
<polygon points="155.65,191.3 160.15,191.3 160.15,188" fill="#bcbcdc"/>
<rect x="160.15" y="169.6" width="1.1" height="1.3" fill="#303048"/>
<polygon points="189.45,170.8 193.95,170.8 193.95,175" fill="#bcbcdc"/>
<polygon points="189.45,191.3 193.95,191.3 193.95,188" fill="#bcbcdc"/>
<rect x="193.95" y="169.6" width="1.1" height="1.3" fill="#303048"/>
<polygon points="223.25,170.8 227.75,170.8 227.75,175" fill="#bcbcdc"/>
<polygon points="223.25,191.3 227.75,191.3 227.75,188" fill="#bcbcdc"/>
<rect x="227.75" y="169.6" width="1.1" height="1.3" fill="#303048"/>
<polygon points="257.05,170.8 261.55,170.8 261.55,175" fill="#bcbcdc"/>
<polygon points="257.05,191.3 261.55,191.3 261.55,188" fill="#bcbcdc"/>
<rect x="261.55" y="169.6" width="1.1" height="1.3" fill="#303048"/>
<polygon points="290.85,170.8 295.35,170.8 295.35,175" fill="#bcbcdc"/>
<polygon points="290.85,191.3 295.35,191.3 295.35,188" fill="#bcbcdc"/>
<rect x="295.35" y="169.6" width="1.1" height="1.3" fill="#303048"/>
<polygon points="324.65,170.8 329.15,170.8 329.15,175" fill="#bcbcdc"/>
<polygon points="324.65,191.3 329.15,191.3 329.15,188" fill="#bcbcdc"/>
<rect x="329.15" y="169.6" width="1.1" height="1.3" fill="#303048"/>
<polygon points="358.45,170.8 362.95,170.8 362.95,175" fill="#bcbcdc"/>
<polygon points="358.45,191.3 362.95,191.3 362.95,188" fill="#bcbcdc"/>
<rect x="362.95" y="169.6" width="1.1" height="1.3" fill="#303048"/>
<polygon points="392.25,170.8 396.75,170.8 396.75,175" fill="#bcbcdc"/>
<polygon points="392.25,191.3 396.75,191.3 396.75,188" fill="#bcbcdc"/>
<rect x="396.75" y="169.6" width="1.1" height="1.3" fill="#303048"/>
<polygon points="426.05,170.8 430.55,170.8 430.55,175" fill="#bcbcdc"/>
<polygon points="426.05,191.3 430.55,191.3 430.55,188" fill="#bcbcdc"/>
<rect x="430.55" y="169.6" width="1.1" height="1.3" fill="#303048"/>
<polygon points="459.85,170.8 464.35,170.8 464.35,175" fill="#bcbcdc"/>
<polygon points="459.85,191.3 464.35,191.3 464.35,188" fill="#bcbcdc"/>
<rect x="464.35" y="169.6" width="1.1" height="1.3" fill="#303048"/>
<polygon points="493.65,170.8 498.15,170.8 498.15,175" fill="#bcbcdc"/>
<polygon points="493.65,191.3 498.15,191.3 498.15,188" fill="#bcbcdc"/>
<rect x="498.15" y="169.6" width="1.1" height="1.3" fill="#303048"/>
<polygon points="527.45,170.8 531.95,170.8 531.95,175" fill="#bcbcdc"/>
<polygon points="527.45,191.3 531.95,191.3 531.95,188" fill="#bcbcdc"/>
<rect x="531.95" y="169.6" width="1.1" height="1.3" fill="#303048"/>
<polygon points="561.25,170.8 565.75,170.8 565.75,175" fill="#bcbcdc"/>
<polygon points="561.25,191.3 565.75,191.3 565.75,188" fill="#bcbcdc"/>
<rect x="565.75" y="169.6" width="1.1" height="1.3" fill="#303048"/>
<polygon points="595.05,170.8 599.55,170.8 599.55,175" fill="#bcbcdc"/>
<polygon points="595.05,191.3 599.55,191.3 599.55,188" fill="#bcbcdc"/>
<rect x="599.55" y="169.6" width="1.1" height="1.3" fill="#303048"/>
<polygon points="628.85,170.8 633.35,170.8 633.35,175" fill="#bcbcdc"/>
<polygon points="628.85,191.3 633.35,191.3 633.35,188" fill="#bcbcdc"/>
<rect x="633.35" y="169.6" width="1.1" height="1.3" fill="#303048"/>
<polygon points="662.65,170.8 667.15,170.8 667.15,175" fill="#bcbcdc"/>
<polygon points="662.65,191.3 667.15,191.3 667.15,188" fill="#bcbcdc"/>
<rect x="667.15" y="169.6" width="1.1" height="1.3" fill="#303048"/>
<polygon points="696.45,170.8 700.95,170.8 700.95,175" fill="#bcbcdc"/>
<polygon points="696.45,191.3 700.95,191.3 700.95,188" fill="#bcbcdc"/>
<rect x="700.95" y="169.6" width="1.1" height="1.3" fill="#303048"/>
<polygon points="730.25,170.8 734.75,170.8 734.75,175" fill="#bcbcdc"/>
<polygon points="730.25,191.3 734.75,191.3 734.75,188" fill="#bcbcdc"/>
<rect x="734.75" y="169.6" width="1.1" height="1.3" fill="#303048"/>
<path d="M25.05 344.9 H768.4 V368.1 H25.05 A0 0 0 0 1 25.05 368.1 V344.9 A0 0 0 0 1 25.05 344.9 Z" fill="#bcbcdc"/>
<path d="M25.05 346.2 H768.4 V366.5 H25.05 A0 0 0 0 1 25.05 366.5 V346.2 A0 0 0 0 1 25.05 346.2 Z" fill="#0202dc"/>
<polygon points="54.25,346.1 58.75,346.1 58.75,350.3" fill="#bcbcdc"/>
<polygon points="54.25,366.6 58.75,366.6 58.75,363.3" fill="#bcbcdc"/>
<rect x="58.75" y="344.9" width="1.1" height="1.3" fill="#303048"/>
<polygon points="88.05,346.1 92.55,346.1 92.55,350.3" fill="#bcbcdc"/>
<polygon points="88.05,366.6 92.55,366.6 92.55,363.3" fill="#bcbcdc"/>
<rect x="92.55" y="344.9" width="1.1" height="1.3" fill="#303048"/>
<polygon points="121.85,346.1 126.35,346.1 126.35,350.3" fill="#bcbcdc"/>
<polygon points="121.85,366.6 126.35,366.6 126.35,363.3" fill="#bcbcdc"/>
<rect x="126.35" y="344.9" width="1.1" height="1.3" fill="#303048"/>
<polygon points="155.65,346.1 160.15,346.1 160.15,350.3" fill="#bcbcdc"/>
<polygon points="155.65,366.6 160.15,366.6 160.15,363.3" fill="#bcbcdc"/>
<rect x="160.15" y="344.9" width="1.1" height="1.3" fill="#303048"/>
<polygon points="189.45,346.1 193.95,346.1 193.95,350.3" fill="#bcbcdc"/>
<polygon points="189.45,366.6 193.95,366.6 193.95,363.3" fill="#bcbcdc"/>
<rect x="193.95" y="344.9" width="1.1" height="1.3" fill="#303048"/>
<polygon points="223.25,346.1 227.75,346.1 227.75,350.3" fill="#bcbcdc"/>
<polygon points="223.25,366.6 227.75,366.6 227.75,363.3" fill="#bcbcdc"/>
<rect x="227.75" y="344.9" width="1.1" height="1.3" fill="#303048"/>
<polygon points="257.05,346.1 261.55,346.1 261.55,350.3" fill="#bcbcdc"/>
<polygon points="257.05,366.6 261.55,366.6 261.55,363.3" fill="#bcbcdc"/>
<rect x="261.55" y="344.9" width="1.1" height="1.3" fill="#303048"/>
<polygon points="290.85,346.1 295.35,346.1 295.35,350.3" fill="#bcbcdc"/>
<polygon points="290.85,366.6 295.35,366.6 295.35,363.3" fill="#bcbcdc"/>
<rect x="295.35" y="344.9" width="1.1" height="1.3" fill="#303048"/>
<polygon points="324.65,346.1 329.15,346.1 329.15,350.3" fill="#bcbcdc"/>
<polygon points="324.65,366.6 329.15,366.6 329.15,363.3" fill="#bcbcdc"/>
<rect x="329.15" y="344.9" width="1.1" height="1.3" fill="#303048"/>
<polygon points="358.45,346.1 362.95,346.1 362.95,350.3" fill="#bcbcdc"/>
<polygon points="358.45,366.6 362.95,366.6 362.95,363.3" fill="#bcbcdc"/>
<rect x="362.95" y="344.9" width="1.1" height="1.3" fill="#303048"/>
<polygon points="392.25,346.1 396.75,346.1 396.75,350.3" fill="#bcbcdc"/>
<polygon points="392.25,366.6 396.75,366.6 396.75,363.3" fill="#bcbcdc"/>
<rect x="396.75" y="344.9" width="1.1" height="1.3" fill="#303048"/>
<polygon points="426.05,346.1 430.55,346.1 430.55,350.3" fill="#bcbcdc"/>
<polygon points="426.05,366.6 430.55,366.6 430.55,363.3" fill="#bcbcdc"/>
<rect x="430.55" y="344.9" width="1.1" height="1.3" fill="#303048"/>
<polygon points="459.85,346.1 464.35,346.1 464.35,350.3" fill="#bcbcdc"/>
<polygon points="459.85,366.6 464.35,366.6 464.35,363.3" fill="#bcbcdc"/>
<rect x="464.35" y="344.9" width="1.1" height="1.3" fill="#303048"/>
<polygon points="493.65,346.1 498.15,346.1 498.15,350.3" fill="#bcbcdc"/>
<polygon points="493.65,366.6 498.15,366.6 498.15,363.3" fill="#bcbcdc"/>
<rect x="498.15" y="344.9" width="1.1" height="1.3" fill="#303048"/>
<polygon points="527.45,346.1 531.95,346.1 531.95,350.3" fill="#bcbcdc"/>
<polygon points="527.45,366.6 531.95,366.6 531.95,363.3" fill="#bcbcdc"/>
<rect x="531.95" y="344.9" width="1.1" height="1.3" fill="#303048"/>
<polygon points="561.25,346.1 565.75,346.1 565.75,350.3" fill="#bcbcdc"/>
<polygon points="561.25,366.6 565.75,366.6 565.75,363.3" fill="#bcbcdc"/>
<rect x="565.75" y="344.9" width="1.1" height="1.3" fill="#303048"/>
<polygon points="595.05,346.1 599.55,346.1 599.55,350.3" fill="#bcbcdc"/>
<polygon points="595.05,366.6 599.55,366.6 599.55,363.3" fill="#bcbcdc"/>
<rect x="599.55" y="344.9" width="1.1" height="1.3" fill="#303048"/>
<polygon points="628.85,346.1 633.35,346.1 633.35,350.3" fill="#bcbcdc"/>
<polygon points="628.85,366.6 633.35,366.6 633.35,363.3" fill="#bcbcdc"/>
<rect x="633.35" y="344.9" width="1.1" height="1.3" fill="#303048"/>
<polygon points="662.65,346.1 667.15,346.1 667.15,350.3" fill="#bcbcdc"/>
<polygon points="662.65,366.6 667.15,366.6 667.15,363.3" fill="#bcbcdc"/>
<rect x="667.15" y="344.9" width="1.1" height="1.3" fill="#303048"/>
<polygon points="696.45,346.1 700.95,346.1 700.95,350.3" fill="#bcbcdc"/>
<polygon points="696.45,366.6 700.95,366.6 700.95,363.3" fill="#bcbcdc"/>
<rect x="700.95" y="344.9" width="1.1" height="1.3" fill="#303048"/>
<polygon points="730.25,346.1 734.75,346.1 734.75,350.3" fill="#bcbcdc"/>
<polygon points="730.25,366.6 734.75,366.6 734.75,363.3" fill="#bcbcdc"/>
<rect x="734.75" y="344.9" width="1.1" height="1.3" fill="#303048"/>
<ellipse cx="413.2" cy="131.2" rx="13.1" ry="10.6" fill="#100010"/>
<ellipse cx="413.2" cy="131.2" rx="11.8" ry="9.3" fill="url(#dith)"/>
<path d="M425 131.7 a11.8 9.3 0 0 1 -7 8.6 l0.5 -2.5 a11 8 0 0 0 5 -5z" fill="#ffe0ff" opacity="0.75"/>
<ellipse cx="244.4" cy="156.3" rx="13.1" ry="10.6" fill="#100010"/>
<ellipse cx="244.4" cy="156.3" rx="11.8" ry="9.3" fill="url(#dith)"/>
<path d="M256.2 156.8 a11.8 9.3 0 0 1 -7 8.6 l0.5 -2.5 a11 8 0 0 0 5 -5z" fill="#ffe0ff" opacity="0.75"/>
<ellipse cx="683.2" cy="355" rx="13.1" ry="10.6" fill="#100010"/>
<ellipse cx="683.2" cy="355" rx="11.8" ry="9.3" fill="url(#dith)"/>
<path d="M695 355.5 a11.8 9.3 0 0 1 -7 8.6 l0.5 -2.5 a11 8 0 0 0 5 -5z" fill="#ffe0ff" opacity="0.75"/>
<ellipse cx="76" cy="432" rx="13.1" ry="10.6" fill="#100010"/>
<ellipse cx="76" cy="432" rx="11.8" ry="9.3" fill="url(#dith)"/>
<path d="M87.8 432.5 a11.8 9.3 0 0 1 -7 8.6 l0.5 -2.5 a11 8 0 0 0 5 -5z" fill="#ffe0ff" opacity="0.75"/>
<polygon points="63.35,119.3 92.65,119.3 92.65,138.1 88.25,144.1 58.85,144.1 58.85,122.9" fill="#55ff55"/>
<polygon points="59.85,123.5 63.75,120.3 64.35,120.3 64.35,139.1 59.85,142.9" fill="#00aa00"/>
<polygon points="59.85,139.1 88.35,139.1 87.75,143.1 59.85,143.1" fill="#00aa00"/>
<path d="M59.65 143.3 L64.05 138.9" stroke="#55ff55" stroke-width="1"/>
<rect x="64.35" y="122.05" width="23.4" height="15.4" fill="#55ff55"/>
<rect x="64.65" y="122.05" width="23.1" height="1.95" fill="#e8ffe8"/>
<rect x="85.55" y="122.05" width="2.2" height="15" fill="#e8ffe8"/>
<rect x="64.9" y="124" width="20.65" height="12.35" fill="#00aa00"/>
<polygon points="63.35,144.3 92.65,144.3 92.65,163.1 88.25,169.1 58.85,169.1 58.85,147.9" fill="#55ff55"/>
<polygon points="59.85,148.5 63.75,145.3 64.35,145.3 64.35,164.1 59.85,167.9" fill="#00aa00"/>
<polygon points="59.85,164.1 88.35,164.1 87.75,168.1 59.85,168.1" fill="#00aa00"/>
<path d="M59.65 168.3 L64.05 163.9" stroke="#55ff55" stroke-width="1"/>
<rect x="64.35" y="147.05" width="23.4" height="15.4" fill="#55ff55"/>
<rect x="64.65" y="147.05" width="23.1" height="1.95" fill="#e8ffe8"/>
<rect x="85.55" y="147.05" width="2.2" height="15" fill="#e8ffe8"/>
<rect x="64.9" y="149" width="20.65" height="12.35" fill="#00aa00"/>
<polygon points="400.75,368.7 430.05,368.7 430.05,387.5 425.65,393.5 396.25,393.5 396.25,372.3" fill="#55ff55"/>
<polygon points="397.25,372.9 401.15,369.7 401.75,369.7 401.75,388.5 397.25,392.3" fill="#00aa00"/>
<polygon points="397.25,388.5 425.75,388.5 425.15,392.5 397.25,392.5" fill="#00aa00"/>
<path d="M397.05 392.7 L401.45 388.3" stroke="#55ff55" stroke-width="1"/>
<rect x="401.75" y="371.45" width="23.4" height="15.4" fill="#55ff55"/>
<rect x="402.05" y="371.45" width="23.1" height="1.95" fill="#e8ffe8"/>
<rect x="422.95" y="371.45" width="2.2" height="15" fill="#e8ffe8"/>
<rect x="402.3" y="373.4" width="20.65" height="12.35" fill="#00aa00"/>
<rect x="124.5" y="327.6" width="644.15" height="7.4" fill="url(#rope)"/>
<g>
<rect x="98.8" y="323.4" width="16.6" height="15.1" fill="#e060e0"/>
<rect x="95.2" y="326.3" width="23.8" height="8.1" fill="#f070f0"/>
<rect x="99.5" y="323.4" width="1.4" height="1.2" fill="#200020"/>
<rect x="114" y="323.4" width="1.4" height="1.2" fill="#200020"/>
<rect x="99.5" y="337.3" width="1.4" height="1.2" fill="#200020"/>
<rect x="114" y="337.3" width="1.4" height="1.2" fill="#200020"/>
<rect x="103.3" y="324.5" width="9.9" height="1.0" fill="#500050"/>
<rect x="103.3" y="335.8" width="9.9" height="1.8" fill="#500050"/>
<rect x="95.2" y="326.5" width="9" height="1.3" fill="#300030"/>
<rect x="95.2" y="333.1" width="9" height="1.3" fill="#300030"/>
<rect x="95.2" y="326.5" width="1.3" height="7.9" fill="#300030"/>
<rect x="113.5" y="328.2" width="5.5" height="0.9" fill="#400040"/>
<rect x="113.5" y="333.2" width="5.5" height="0.9" fill="#400040"/>
<rect x="97" y="328.8" width="20" height="3.2" fill="#c8c0f8"/>
<rect x="96.5" y="328.6" width="1.4" height="4.2" fill="#8a0070"/>
<rect x="101" y="328.6" width="1.8" height="4.2" fill="#8a0070"/>
<rect x="106" y="328.6" width="1.8" height="4.2" fill="#8a0070"/>
<ellipse cx="122" cy="330.4" rx="3.2" ry="5.0" fill="#200000"/>
<ellipse cx="122" cy="330.4" rx="2.3" ry="4.2" fill="#d81818"/>
<rect x="119.2" y="327" width="1.2" height="7" fill="#f8d0d0"/>
</g>
<g>
<circle cx="32.8" cy="253.5" r="3.6" fill="#44ee44"/>
<circle cx="51.5" cy="252.5" r="3.6" fill="#44ee44"/>
<rect x="34.5" y="250" width="15" height="6" rx="2" fill="#100808"/>
<path d="M34 245.5 q3 -3 6 0 l-1 3 q-2 -1 -4 0z" fill="#22aa22"/>
<rect x="35" y="255.8" width="4" height="3" fill="#2a88aa"/>
<rect x="39.5" y="255" width="4" height="4.2" fill="#ff66aa"/>
<rect x="44" y="255.8" width="3.5" height="3" fill="#66ddee"/>
<rect x="43.5" y="258.5" width="6" height="5" fill="#119911"/>
<path d="M44 264 q4 2 7 -3" stroke="#e050e0" stroke-width="2" fill="none"/>
</g>
<g>
<rect x="744" y="199" width="14" height="14.5" fill="#000"/>
<rect x="745.6" y="200.6" width="10.8" height="11.3" fill="#30c8b8"/>
<rect x="746.6" y="203" width="8.8" height="6.5" fill="#55e066"/>
<path d="M747.5 204 l1.2 4.5 l1.6 -3 l1.6 3 l1.2 -4.5" stroke="#a04000" stroke-width="1.4" fill="none"/>
<rect x="745.6" y="201.8" width="10.8" height="0.8" fill="#00707a"/>
<rect x="745.6" y="210" width="10.8" height="0.8" fill="#00707a"/>
</g>
<g>
<rect x="736.6" y="400.5" width="1.2" height="11.5" fill="#c8c060"/>
<rect x="762.8" y="400.5" width="1.2" height="11.5" fill="#c8c060"/>
<rect x="738.4" y="399.9" width="25.4" height="12.3" fill="#300010"/>
<rect x="739.6" y="401" width="23" height="10.1" fill="#90004a"/>
<rect x="743" y="403" width="16.2" height="6.6" fill="#400020"/>
<rect x="744.2" y="404" width="13.8" height="4.6" fill="#b0185a"/>
<rect x="750" y="404.6" width="1.8" height="3.2" fill="#f0a040"/>
</g>
<rect x="734.5" y="444" width="33.9" height="24.7" fill="#000"/>
<rect x="735" y="444.5" width="31" height="2.9" fill="#a8a8a8"/>
<rect x="735" y="447.4" width="31" height="1.0" fill="#606060"/>
<rect x="736.35" y="448.55" width="28.55" height="2.9" fill="#a8a8a8"/>
<rect x="736.35" y="451.45" width="28.55" height="1.0" fill="#606060"/>
<rect x="737.7" y="452.6" width="26.1" height="2.9" fill="#a8a8a8"/>
<rect x="737.7" y="455.5" width="26.1" height="1.0" fill="#606060"/>
<rect x="739.05" y="456.65" width="23.65" height="2.9" fill="#a8a8a8"/>
<rect x="739.05" y="459.55" width="23.65" height="1.0" fill="#606060"/>
<rect x="740.4" y="460.7" width="21.2" height="2.9" fill="#a8a8a8"/>
<rect x="740.4" y="463.6" width="21.2" height="1.0" fill="#606060"/>
<rect x="741.75" y="464.75" width="18.75" height="2.9" fill="#a8a8a8"/>
<rect x="741.75" y="467.65" width="18.75" height="1.0" fill="#606060"/>
<!-- status bar -->
<rect x="18.3" y="480.8" width="755.5" height="31.2" fill="#555"/>
<rect x="21.3" y="483.8" width="748" height="25.8" fill="#fff"/>
<rect x="23.3" y="486.1" width="744" height="21.4" fill="#ff55ff"/>
<!-- save button -->
<path d="M0 0 H31.5 V27.5 a4 4 0 0 1 -4 4 H0 Z" fill="#e6e6ea"/>
<path d="M6 8 H20.3 L24 11.6 V24.6 H6 Z" fill="#7a7a7a"/>
<rect x="8.3" y="9.4" width="3.3" height="5.0" fill="#e6e6ea"/>
<path d="M18.6 9.4 H20 L21.8 11.3 V14.4 H18.6 Z" fill="#e6e6ea"/>
<rect x="12.6" y="9.4" width="2.6" height="3.2" fill="#c8c8cc"/>
<rect x="10" y="16.8" width="9.4" height="5.4" fill="#e6e6ea"/>
<!-- side tab -->
<path d="M0 276 H15.5 a2 2 0 0 1 2 2 V321.3 a2 2 0 0 1 -2 2 H0 Z" fill="#e4bce4"/>
<path d="M5.6 295 L10.6 300 L5.6 305" fill="none" stroke="#5a2a6a" stroke-width="1.6"/>
</svg>
<div class="ch" style="left:52.5px;color:#555"><span>F</span></div>
<div class="ch" style="left:62.5px;color:#555"><span>L</span></div>
<div class="ch" style="left:72.5px;color:#555"><span>O</span></div>
<div class="ch" style="left:82.5px;color:#555"><span>O</span></div>
<div class="ch" style="left:92.5px;color:#555"><span>R</span></div>
<div class="ch" style="left:112.5px;color:#555"><span>#</span></div>
<div class="ch" style="left:122.5px;color:#555"><span>:</span></div>
<div class="ch" style="left:143.5px;color:#0000aa"><span>1</span></div>
<div class="ch" style="left:173.5px;color:#0000aa"><span>&lt;</span></div>
<div class="ch" style="left:183.5px;color:#0000aa"><span>G</span></div>
<div class="ch" style="left:193.5px;color:#0000aa"><span>&gt;</span></div>
<div class="ch" style="left:203.5px;color:#0000aa"><span>i</span></div>
<div class="ch" style="left:213.5px;color:#0000aa"><span>v</span></div>
<div class="ch" style="left:223.5px;color:#0000aa"><span>e</span></div>
<div class="ch" style="left:243.5px;color:#0000aa"><span>u</span></div>
<div class="ch" style="left:253.5px;color:#0000aa"><span>p</span></div>
<div class="ch" style="left:313.5px;color:#555"><span>A</span></div>
<div class="ch" style="left:323.5px;color:#555"><span>T</span></div>
<div class="ch" style="left:333.5px;color:#555"><span>T</span></div>
<div class="ch" style="left:343.5px;color:#555"><span>E</span></div>
<div class="ch" style="left:353.5px;color:#555"><span>M</span></div>
<div class="ch" style="left:363.5px;color:#555"><span>P</span></div>
<div class="ch" style="left:373.5px;color:#555"><span>T</span></div>
<div class="ch" style="left:383.5px;color:#555"><span>S</span></div>
<div class="ch" style="left:393.5px;color:#555"><span>:</span></div>
<div class="ch" style="left:406.5px;color:#0000aa"><span>2</span></div>
<div class="ch" style="left:473.5px;color:#555"><span>S</span></div>
<div class="ch" style="left:483.5px;color:#555"><span>C</span></div>
<div class="ch" style="left:493.5px;color:#555"><span>O</span></div>
<div class="ch" style="left:503.5px;color:#555"><span>R</span></div>
<div class="ch" style="left:513.5px;color:#555"><span>E</span></div>
<div class="ch" style="left:523.5px;color:#555"><span>:</span></div>
<div class="ch" style="left:543.5px;color:#555"><span>1</span></div>
<div class="ch" style="left:553.5px;color:#555"><span>1</span></div>
<div class="ch" style="left:563.5px;color:#555"><span>0</span></div>
<div class="ch" style="left:573.5px;color:#555"><span>2</span></div>
<div class="ch" style="left:654.5px;color:#fff"><span>&lt;</span></div>
<div class="ch" style="left:664.5px;color:#fff"><span>K</span></div>
<div class="ch" style="left:674.5px;color:#fff"><span>&gt;</span></div>
<div class="ch" style="left:684.5px;color:#fff"><span>E</span></div>
<div class="ch" style="left:694.5px;color:#fff"><span>Y</span></div>
<div class="ch" style="left:704.5px;color:#fff"><span>S</span></div>
</body></html>
